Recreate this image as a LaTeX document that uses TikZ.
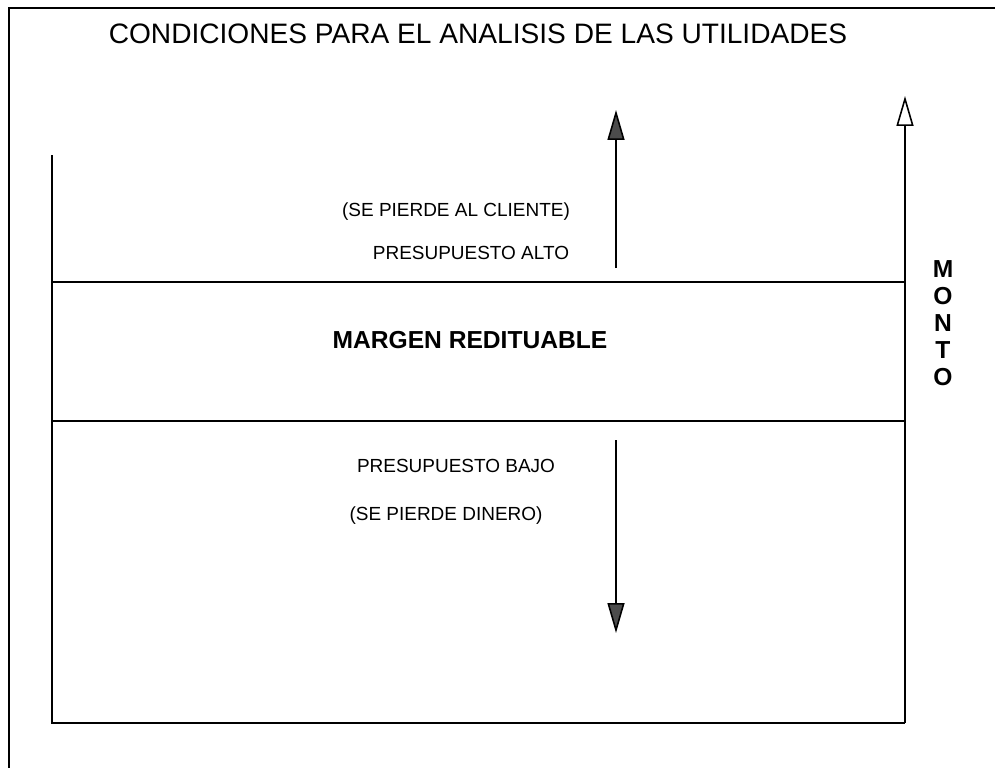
\documentclass[tikz,border=0pt]{standalone}
\usepackage{fontspec}
\setmainfont{Liberation Sans}
\usepackage{tikz}
\usetikzlibrary{arrows.meta}

\begin{document}
\begin{tikzpicture}[x=0.02cm,y=-0.02cm,
  linea/.style={line width=0.9pt},
  txt/.style={font=\fontsize{10.8}{12}\selectfont},
  flecha/.style={linea,-{Triangle[length=0.6cm,width=0.34cm,fill=black!70]}},
  flechaabierta/.style={linea,-{Triangle[open,length=0.6cm,width=0.34cm]}}]
\useasboundingbox (0,0) rectangle (995,768);
\draw[line width=1.4pt] (9,768) -- (9,8) -- (995,8);
\node[font=\fontsize{16}{18}\selectfont] (titulo) at (478,34) {CONDICIONES PARA EL ANALISIS DE LAS UTILIDADES};
% ejes
\coordinate (ejeA) at (52,155);
\coordinate (origen) at (52,723);
\coordinate (ejeB) at (905,723);
\coordinate (ejeC) at (905,96);
\draw[linea] (ejeA) -- (origen) -- (ejeB);
\draw[flechaabierta] (ejeB) -- (ejeC);
% margen
\coordinate (altoA) at (52,282);
\coordinate (altoB) at (905,282);
\coordinate (bajoA) at (52,421);
\coordinate (bajoB) at (905,421);
\draw[linea] (altoA) -- (altoB);
\draw[linea] (bajoA) -- (bajoB);
\node[font=\bfseries\fontsize{14}{16}\selectfont] (margen) at (470,340) {MARGEN REDITUABLE};
% presupuesto alto
\node[txt] (cliente) at (456,212) {(SE PIERDE AL CLIENTE)};
\node[txt] (alto) at (471,253) {PRESUPUESTO ALTO};
\coordinate (subeA) at (616,268);
\coordinate (subeB) at (616,110);
\draw[flecha] (subeA) -- (subeB);
% presupuesto bajo
\node[txt] (bajo) at (456,466) {PRESUPUESTO BAJO};
\node[txt] (dinero) at (446,516) {(SE PIERDE DINERO)};
\coordinate (bajaA) at (616,440);
\coordinate (bajaB) at (616,633);
\draw[flecha] (bajaA) -- (bajaB);
\node[font=\bfseries\fontsize{14}{15.3}\selectfont,align=center] (monto) at (943,323) {M\\O\\N\\T\\O};
\end{tikzpicture}
\end{document}
